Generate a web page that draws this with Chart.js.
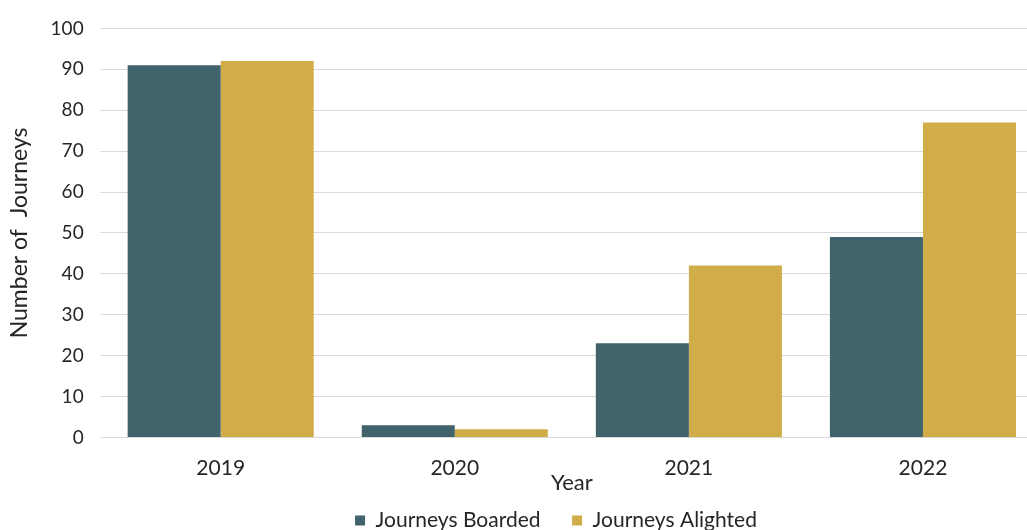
<!DOCTYPE html>
<html>
<head>
<meta charset="utf-8">
<script src="https://cdn.jsdelivr.net/npm/chart.js@4"></script>
<style>
  html, body { margin: 0; padding: 0; background: #ffffff; overflow: hidden; width: 1027px; height: 530px; }
  #wrap { position: absolute; left: 0; top: 0; width: 1110px; height: 530px; }
</style>
</head>
<body>
<div id="wrap"><canvas id="c" width="1110" height="530"></canvas></div>
<script>
const categories = ["2019", "2020", "2021", "2022"];
const boarded = [91, 3, 23, 49];
const alighted = [92, 2, 42, 77];
const seriesNames = ["Journeys Boarded", "Journeys Alighted"];
const yTicks = [0, 10, 20, 30, 40, 50, 60, 70, 80, 90, 100];

const FONT = "Lato, 'Liberation Sans', sans-serif";
const TEXT = "#262626";
const TEAL = "#41636b";
const GOLD = "#d1ad4a";

// shift the legend horizontally so it sits where the reference legend sits
const legendShift = {
  id: "legendShift",
  afterLayout(chart) {
    const lg = chart.legend;
    if (lg) { lg.left += 33; lg.right += 33; }
  }
};

new Chart(document.getElementById("c"), {
  type: "bar",
  data: {
    labels: categories,
    datasets: [
      { label: seriesNames[0], data: boarded, backgroundColor: TEAL, borderWidth: 0 },
      { label: seriesNames[1], data: alighted, backgroundColor: GOLD, borderWidth: 0 }
    ]
  },
  plugins: [legendShift],
  options: {
    responsive: false,
    animation: false,
    devicePixelRatio: 1,
    layout: { padding: { left: 6, right: 70, top: 16, bottom: -11 } },
    datasets: { bar: { categoryPercentage: 0.795, barPercentage: 1.0 } },
    plugins: {
      legend: {
        position: "bottom",
        labels: {
          font: { family: FONT, size: 21 },
          color: TEXT,
          boxWidth: 10,
          boxHeight: 10,
          padding: 10,
          generateLabels: (chart) => {
            const items = Chart.defaults.plugins.legend.labels.generateLabels(chart);
            items.forEach((it, i) => { if (i === 0) it.text = it.text + "    "; });
            return items;
          }
        }
      },
      tooltip: { enabled: false }
    },
    scales: {
      x: {
        grid: { display: false, drawTicks: false },
        border: { display: false },
        ticks: { font: { family: FONT, size: 21 }, color: TEXT, padding: 18 },
        title: {
          display: true, text: "Year",
          font: { family: FONT, size: 22 }, color: TEXT,
          padding: { top: -29, bottom: 4 }
        }
      },
      y: {
        min: 0, max: 100,
        afterBuildTicks: (axis) => { axis.ticks = yTicks.map(v => ({ value: v })); },
        grid: { color: "#d9d9d9", lineWidth: 1, drawTicks: true, tickLength: 3 },
        border: { display: false },
        ticks: { font: { family: FONT, size: 19 }, color: TEXT, padding: 17 },
        title: {
          display: true, text: "Number of  Journeys",
          font: { family: FONT, size: 23 }, color: TEXT,
          padding: { top: 0, bottom: 0 }
        }
      }
    }
  }
});
</script>
</body>
</html>
